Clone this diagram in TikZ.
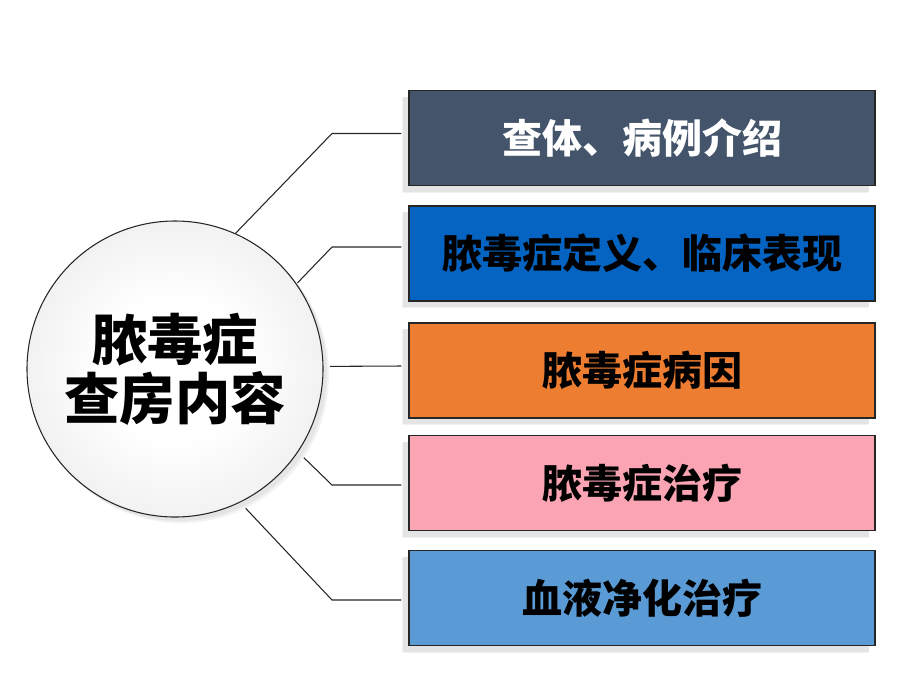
\documentclass[tikz,border=0pt]{standalone}
\usepackage{fontspec}
\newfontfamily\cjk{Noto Sans CJK SC}
\usetikzlibrary{calc}
\definecolor{cA}{HTML}{44546A}
\definecolor{cB}{HTML}{0563C1}
\definecolor{cC}{HTML}{ED7D31}
\definecolor{cD}{HTML}{FBA4B4}
\definecolor{cE}{HTML}{5B9BD5}
\definecolor{shd}{HTML}{E4E4E4}
\definecolor{lin}{HTML}{262626}
\pgfdeclareradialshading{circsh}{\pgfpoint{0bp}{0bp}}{color(0bp)=(white); color(12bp)=(white); color(32bp)=(black!8); color(50bp)=(black!19)}
\tikzset{
  topic/.style={draw=black!85, line width=0.8pt, minimum width=349.5pt, minimum height=71.25pt,
     inner sep=0pt, font=\cjk\bfseries\fontsize{30}{34}\selectfont},
  shadowbox/.style={fill=shd, draw=none, minimum width=349.5pt, minimum height=71.25pt, inner sep=0pt},
  conn/.style={draw=lin, line width=0.8pt},
}
\begin{document}
\begin{tikzpicture}[x=0.75pt,y=-0.75pt]
\useasboundingbox (0,0) rectangle (920,690);
\coordinate (cc) at (175,369);
\node[circle, minimum size=222pt, inner sep=0pt] (c) at (cc) {};
\coordinate (e1) at (332,133.5);
\coordinate (e2) at (332,247);
\coordinate (e3) at (332,366);
\coordinate (e4) at (332,485);
\coordinate (e5) at (332,600);
% box positions
\coordinate (p1) at (642,138);
\coordinate (p2) at (642,253.5);
\coordinate (p3) at (642,370.5);
\coordinate (p4) at (642,483);
\coordinate (p5) at (642,598);
% shadows
\foreach \i in {1,...,5}{
  \node[shadowbox, fill=shd!50] at ($(p\i)+(-7,7)$) {};
  \node[shadowbox] at ($(p\i)+(-6,6)$) {};
}
% boxes
\node[topic, fill=cA, text=white] (b1) at (p1) {查体、病例介绍};
\node[topic, fill=cB, text=black] (b2) at (p2) {脓毒症定义、临床表现};
\node[topic, fill=cC, text=black] (b3) at (p3) {脓毒症病因};
\node[topic, fill=cD, text=black] (b4) at (p4) {脓毒症治疗};
\node[topic, fill=cE, text=black] (b5) at (p5) {血液净化治疗};
% connectors
\draw[conn] (c.66) -- (e1) -- ($(e1 -| b1.west)+(-7,0)$);
\draw[conn, shorten <=1pt] (c.35) -- (e2) -- ($(e2 -| b2.west)+(-7,0)$);
\draw[conn, shorten <=5pt] (c.1) -- ($(e3 -| b3.west)+(-7,0)$);
\draw[conn, shorten <=5pt] (c.-34) -- (e4) -- ($(e4 -| b4.west)+(-7,0)$);
\draw[conn, shorten <=6pt] (c.-64) -- (e5) -- ($(e5 -| b5.west)+(-7,0)$);
% circle shadow
\fill[black!5] ($(cc)+(6,6)$) circle[radius=111pt];
\fill[black!10] ($(cc)+(4,4)$) circle[radius=111pt];
% circle
\node[circle, minimum size=222pt, inner sep=0pt, draw=black!85, line width=0.8pt,
      shading=circsh, align=center,
      font=\cjk\bfseries\fontsize{41.5}{46.5}\selectfont] at (cc) {脓毒症\\[-2pt]查房内容};
\end{tikzpicture}
\end{document}
